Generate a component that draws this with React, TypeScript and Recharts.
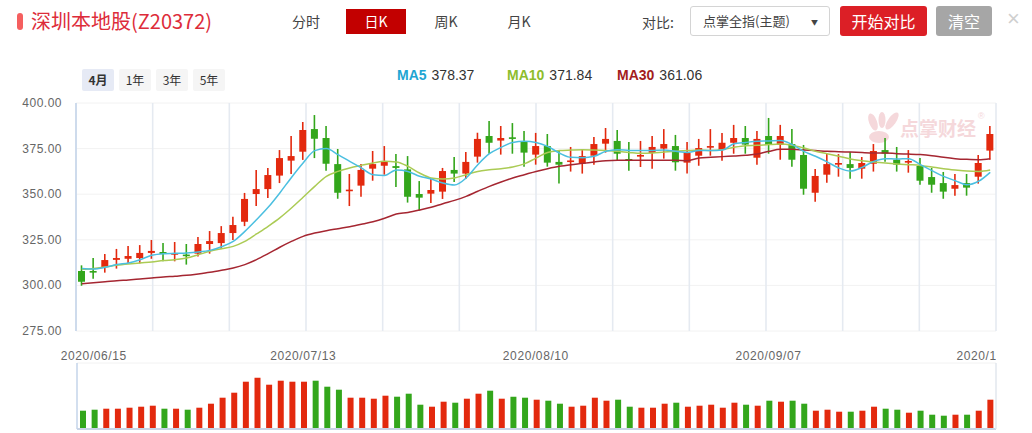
import React from 'react';
import { ComposedChart, Bar, Line, XAxis, YAxis, CartesianGrid, Cell, ReferenceLine } from 'recharts';

// trading days 2020/06/15 .. 2020/10/13
const dates = [
  '2020/06/15', '2020/06/16', '2020/06/17', '2020/06/18', '2020/06/19', '2020/06/22', '2020/06/23', '2020/06/24', '2020/06/29', '2020/06/30',
  '2020/07/01', '2020/07/02', '2020/07/03', '2020/07/06', '2020/07/07', '2020/07/08', '2020/07/09', '2020/07/10', '2020/07/13', '2020/07/14',
  '2020/07/15', '2020/07/16', '2020/07/17', '2020/07/20', '2020/07/21', '2020/07/22', '2020/07/23', '2020/07/24', '2020/07/27', '2020/07/28',
  '2020/07/29', '2020/07/30', '2020/07/31', '2020/08/03', '2020/08/04', '2020/08/05', '2020/08/06', '2020/08/07', '2020/08/10', '2020/08/11',
  '2020/08/12', '2020/08/13', '2020/08/14', '2020/08/17', '2020/08/18', '2020/08/19', '2020/08/20', '2020/08/21', '2020/08/24', '2020/08/25',
  '2020/08/26', '2020/08/27', '2020/08/28', '2020/08/31', '2020/09/01', '2020/09/02', '2020/09/03', '2020/09/04', '2020/09/07', '2020/09/08',
  '2020/09/09', '2020/09/10', '2020/09/11', '2020/09/14', '2020/09/15', '2020/09/16', '2020/09/17', '2020/09/18', '2020/09/21', '2020/09/22',
  '2020/09/23', '2020/09/24', '2020/09/25', '2020/09/28', '2020/09/29', '2020/09/30', '2020/10/09', '2020/10/12', '2020/10/13',
];

const dateTicks = ['2020/06/15', '2020/07/13', '2020/08/10', '2020/09/07', '2020/10/12'];
const priceTicks = [275, 300, 325, 350, 375, 400];
const gridColumns = 12;
const volumeTicks = [0, 22, 44, 66];

const opens = [
  307.9, 307.9, 310.1, 314.0, 314.6, 315.0, 317.8, 318.3, 317.3, 316.9,
  317.4, 322.7, 323.2, 328.7, 334.9, 350.1, 352.8, 360.2, 368.4, 373.3,
  385.7, 380.8, 366.5, 352.0, 354.7, 364.0, 365.6, 365.4, 363.6, 350.1,
  350.3, 351.4, 363.3, 361.3, 370.6, 381.9, 379.4, 381.2, 379.0, 371.7,
  376.4, 367.7, 368.2, 366.7, 371.1, 377.7, 379.2, 369.3, 370.6, 372.6,
  375.0, 376.4, 367.3, 371.1, 375.5, 374.2, 378.2, 380.8, 370.0, 381.9,
  377.0, 377.5, 371.5, 350.8, 360.7, 366.2, 366.5, 364.0, 366.7, 374.2,
  368.9, 367.3, 365.5, 359.4, 356.1, 353.0, 356.1, 359.6, 373.9,
];
const closes = [
  302.0, 307.0, 313.9, 315.0, 316.1, 317.8, 318.9, 317.2, 317.7, 316.5,
  322.7, 324.3, 328.7, 333.1, 347.4, 352.8, 360.5, 369.8, 370.9, 385.2,
  380.4, 366.7, 350.8, 352.5, 363.3, 366.5, 368.2, 364.4, 348.6, 348.1,
  352.3, 362.7, 361.3, 367.7, 380.3, 378.2, 380.8, 380.3, 372.8, 376.4,
  367.3, 366.2, 368.5, 370.9, 377.5, 380.3, 372.2, 368.6, 371.5, 375.9,
  377.5, 367.5, 372.6, 375.3, 376.4, 378.2, 380.8, 377.2, 380.3, 377.0,
  381.9, 368.9, 353.0, 360.0, 366.5, 367.1, 364.4, 367.1, 373.7, 372.2,
  366.2, 368.2, 357.4, 355.2, 351.4, 355.0, 353.6, 367.1, 383.0,
];
const highs = [
  311.0, 315.0, 317.2, 320.0, 321.6, 322.1, 324.9, 323.2, 323.8, 322.7,
  326.5, 329.8, 332.5, 337.7, 350.7, 363.3, 364.4, 374.2, 381.9, 389.6,
  393.4, 387.4, 374.8, 361.1, 366.5, 373.7, 376.4, 372.0, 370.9, 357.2,
  358.3, 364.4, 370.4, 373.1, 383.7, 390.1, 387.4, 389.0, 384.6, 383.6,
  383.0, 374.0, 375.9, 374.2, 381.4, 386.3, 385.2, 378.6, 379.2, 381.9,
  385.7, 382.5, 378.6, 380.3, 385.7, 383.6, 388.0, 387.4, 384.6, 391.8,
  388.0, 385.7, 377.0, 363.8, 372.0, 372.0, 373.1, 370.4, 377.5, 380.8,
  375.9, 374.2, 369.8, 364.4, 362.2, 361.1, 361.1, 371.5, 387.4,
];
const lows = [
  299.8, 303.7, 307.0, 309.2, 312.1, 312.1, 314.6, 313.2, 313.2, 311.4,
  315.8, 317.4, 319.9, 324.9, 332.5, 343.5, 347.9, 356.1, 361.1, 368.8,
  369.8, 362.9, 347.5, 343.5, 348.6, 357.4, 360.7, 353.9, 345.4, 341.0,
  345.2, 347.4, 356.7, 358.3, 367.3, 372.2, 371.7, 372.2, 365.1, 366.2,
  365.1, 355.8, 362.4, 361.3, 366.2, 372.8, 368.6, 362.9, 364.9, 364.0,
  369.5, 362.9, 361.3, 365.6, 371.1, 368.4, 372.2, 372.2, 366.2, 372.2,
  368.9, 365.1, 349.7, 345.9, 356.3, 359.6, 358.5, 358.5, 362.4, 367.8,
  362.4, 361.8, 355.2, 350.8, 347.5, 349.2, 349.2, 355.8, 368.9,
];
const ma5 = [
  309.3, 309.0, 309.9, 311.4, 312.3, 314.1, 316.5, 317.4, 317.6, 317.8,
  318.3, 319.2, 321.2, 324.1, 329.6, 336.0, 342.8, 350.7, 359.2, 367.1,
  373.9, 375.0, 371.7, 368.0, 364.4, 360.7, 360.3, 363.3, 362.5, 359.8,
  358.3, 356.1, 355.0, 358.9, 366.2, 372.2, 375.7, 378.4, 379.0, 378.4,
  376.2, 372.6, 370.2, 370.0, 370.8, 373.5, 374.4, 374.0, 373.9, 374.0,
  374.2, 373.5, 372.9, 373.9, 373.9, 374.2, 377.7, 378.4, 379.0, 379.2,
  379.4, 377.2, 373.5, 370.8, 367.7, 364.4, 362.7, 364.7, 368.0, 369.5,
  369.3, 369.5, 366.2, 362.9, 359.8, 357.4, 355.2, 357.1, 362.0,
];
const ma10 = [
  308.8, 309.3, 310.1, 311.0, 311.7, 312.3, 312.8, 313.6, 314.1, 315.0,
  316.8, 318.7, 320.1, 321.4, 324.1, 328.2, 332.4, 337.0, 342.4, 348.3,
  354.3, 359.8, 362.5, 364.4, 365.8, 367.1, 368.0, 367.7, 365.3, 361.6,
  358.9, 358.3, 358.9, 360.7, 362.5, 363.4, 364.0, 364.9, 366.6, 369.8,
  372.9, 373.9, 374.2, 374.4, 374.2, 373.9, 373.5, 372.9, 372.4, 372.6,
  373.1, 373.5, 373.9, 374.2, 374.0, 374.4, 375.7, 376.6, 376.8, 377.2,
  377.5, 376.8, 375.3, 373.5, 372.2, 370.8, 369.3, 368.4, 367.7, 367.1,
  366.6, 366.2, 365.8, 364.9, 364.0, 363.3, 362.7, 362.5, 363.3,
];
const ma30 = [
  300.9, 301.5, 302.0, 302.6, 303.0, 303.5, 304.0, 304.6, 305.0, 305.5,
  306.3, 307.2, 308.3, 309.5, 311.4, 314.1, 317.4, 320.9, 324.1, 326.9,
  328.7, 330.0, 331.1, 332.2, 333.5, 334.9, 336.8, 339.1, 340.0, 341.3,
  342.8, 344.8, 346.6, 348.8, 351.6, 354.3, 356.7, 358.9, 360.7, 362.5,
  364.0, 365.3, 366.2, 366.9, 367.7, 368.4, 368.6, 368.6, 368.6, 368.6,
  368.6, 368.6, 368.4, 369.8, 370.2, 370.6, 370.9, 371.3, 372.0, 373.5,
  374.6, 374.6, 374.2, 373.9, 373.5, 373.3, 373.1, 372.8, 372.6, 372.6,
  372.2, 372.0, 371.7, 371.1, 370.2, 369.5, 369.1, 368.9, 369.5,
];
const volumes = [
  18.3, 19.3, 20.3, 20.3, 21.3, 22.3, 23.3, 20.3, 20.3, 19.3,
  21.3, 25.3, 31.3, 36.3, 47.3, 51.3, 44.3, 48.3, 47.3, 47.3,
  48.3, 42.3, 39.3, 31.3, 31.3, 30.3, 33.3, 32.3, 35.3, 24.3,
  22.3, 27.3, 26.3, 30.3, 35.3, 38.3, 30.3, 32.3, 31.3, 29.3,
  28.3, 25.3, 22.3, 23.3, 31.3, 28.3, 29.3, 22.3, 21.3, 21.3,
  25.3, 26.3, 22.3, 23.3, 24.3, 21.3, 26.3, 24.3, 23.3, 28.3,
  27.3, 28.3, 25.3, 18.3, 19.3, 17.3, 17.3, 18.3, 22.3, 20.3,
  19.3, 16.3, 18.3, 14.3, 13.3, 14.3, 14.3, 18.3, 29.3,
];

const RED = '#e3290e';
const GREEN = '#33a61b';
const LATIN = '"Liberation Sans", Arial, "Noto Sans CJK SC", sans-serif';
const CJK = '"Noto Sans CJK SC", "Liberation Sans", sans-serif';

const rows = dates.map((date, i) => ({
  date,
  open: opens[i],
  close: closes[i],
  high: highs[i],
  low: lows[i],
  range: [lows[i], highs[i]],
  ma5: ma5[i],
  ma10: ma10[i],
  ma30: ma30[i],
  volume: volumes[i],
}));

// vertical grid: plot width split into equal columns
const columnLines = ({ offset }: any) =>
  Array.from({ length: gridColumns + 1 }, (_, k) => offset.left + (k * offset.width) / gridColumns);

const Candle = (props: any) => {
  const { x, y, width, height, payload } = props;
  const { open, close, high, low } = payload;
  const color = close >= open ? RED : GREEN;
  const top = Math.min(y, y + height);
  const h = Math.abs(height);
  const span = high - low || 1;
  const toY = (v: number) => top + ((high - v) / span) * h;
  const cx = x + width / 2;
  const bodyTop = toY(Math.max(open, close));
  const bodyBot = toY(Math.min(open, close));
  return (
    <g>
      <line x1={cx} x2={cx} y1={top} y2={top + h} stroke={color} strokeWidth={1.6} />
      <rect x={x} y={bodyTop} width={width} height={Math.max(bodyBot - bodyTop, 1.6)} fill={color} />
    </g>
  );
};

const PriceTick = ({ x, y, payload }: any) => (
  <text x={x} y={y + 4} textAnchor="end" fill="#666" fontSize={12} letterSpacing={0.5} fontFamily={LATIN}>
    {Number(payload.value).toFixed(2)}
  </text>
);

// labels are cut at the right border of the plot
const DateTick = ({ x, y, payload }: any) => (
  <svg x={0} y={y - 20} width={996} height={26} overflow="hidden">
    <text x={x + 11} y={20} textAnchor="middle" fill="#666" fontSize={12} letterSpacing={0.6} fontFamily={LATIN}>
      {payload.value}
    </text>
  </svg>
);

const tab = (label: string, left: number, active = false) => (
  <div
    style={{
      position: 'absolute', left, top: 9, width: active ? 60 : 40, height: 25, lineHeight: '25px',
      textAlign: 'center', fontSize: 14, fontFamily: CJK,
      background: active ? '#c20000' : 'transparent', color: active ? '#fff' : '#444',
    }}
  >
    {label}
  </div>
);

const period = (label: string, left: number, active = false) => (
  <div
    style={{
      position: 'absolute', left, top: 69, width: 32, height: 22, lineHeight: '22px', textAlign: 'center',
      fontSize: 12, fontFamily: CJK, borderRadius: 2, fontWeight: active ? 700 : 400,
      background: active ? '#e6eaf5' : '#f5f5f5', color: '#333',
    }}
  >
    {label}
  </div>
);

const legendItem = (name: string, value: string, color: string, left: number) => (
  <div style={{ position: 'absolute', left, top: 67, fontSize: 14, fontFamily: LATIN, whiteSpace: 'nowrap' }}>
    <span style={{ color, fontWeight: 700 }}>{name}</span>
    <span style={{ color: '#333', marginLeft: 5 }}>{value}</span>
  </div>
);

export default function App() {
  return (
    <div style={{ position: 'absolute', left: 0, top: 0, width: 1032, height: 433, background: '#fff', overflow: 'hidden' }}>
      {/* header */}
      <div style={{ position: 'absolute', left: 17, top: 13, width: 6, height: 17, borderRadius: 3, background: '#f55f5f' }} />
      <div style={{ position: 'absolute', left: 31, top: 7, fontSize: 20, fontFamily: CJK, color: '#dd2c3a', lineHeight: '28px' }}>
        深圳本地股(Z20372)
      </div>
      {tab('分时', 286)}
      {tab('日K', 346, true)}
      {tab('周K', 426)}
      {tab('月K', 499)}
      <div style={{ position: 'absolute', left: 642, top: 8, fontSize: 14, fontFamily: CJK, color: '#444', lineHeight: '28px' }}>对比:</div>
      <div
        style={{
          position: 'absolute', left: 690, top: 6, width: 140, height: 30, border: '1px solid #d4d4d4', borderRadius: 3,
          boxSizing: 'border-box', fontSize: 13, fontFamily: CJK, color: '#444', lineHeight: '28px', paddingLeft: 12,
        }}
      >
        点掌全指(主题)
        <span style={{ position: 'absolute', right: 11, top: 1, fontSize: 7, color: '#444' }}>▼</span>
      </div>
      <div
        style={{
          position: 'absolute', left: 840, top: 6, width: 87, height: 30, borderRadius: 3, background: '#dc1f26',
          color: '#fff', fontSize: 16, fontFamily: CJK, lineHeight: '30px', textAlign: 'center',
        }}
      >
        开始对比
      </div>
      <div
        style={{
          position: 'absolute', left: 936, top: 6, width: 56, height: 30, borderRadius: 3, background: '#a6a6a6',
          color: '#fff', fontSize: 16, fontFamily: CJK, lineHeight: '30px', textAlign: 'center',
        }}
      >
        清空
      </div>
      <div style={{ position: 'absolute', left: 1007, top: 4, fontSize: 22, fontFamily: LATIN, color: '#cfcfcf', lineHeight: '30px' }}>×</div>

      {period('4月', 82, true)}
      {period('1年', 119)}
      {period('3年', 156)}
      {period('5年', 193)}

      {legendItem('MA5', '378.37', '#1fa5d2', 397)}
      {legendItem('MA10', '371.84', '#8ebd2c', 507)}
      {legendItem('MA30', '361.06', '#a31d1d', 617)}

      {/* watermark */}
      <div style={{ position: 'absolute', left: 864, top: 111, display: 'flex', alignItems: 'flex-start' }}>
        <svg width={36} height={34}>
          <ellipse cx={9} cy={11} rx={4} ry={9} fill="#f5d8db" transform="rotate(-20 9 11)" />
          <ellipse cx={18} cy={9} rx={3.5} ry={8} fill="#f5d8db" />
          <ellipse cx={28} cy={10} rx={4} ry={10} fill="#f5d8db" transform="rotate(35 28 10)" />
          <ellipse cx={15} cy={26} rx={10} ry={6} fill="#f5d8db" />
        </svg>
        <span style={{ fontSize: 19, fontWeight: 700, fontFamily: CJK, color: '#f5d8db', lineHeight: '34px' }}>点掌财经</span>
        <span style={{ fontSize: 9, fontFamily: LATIN, color: '#f5d8db', marginLeft: 2 }}>®</span>
      </div>

      {/* price chart */}
      <div style={{ position: 'absolute', left: 0, top: 93 }}>
        <ComposedChart width={1032} height={250} data={rows} margin={{ top: 10, right: 36, bottom: 12, left: 0 }}>
          <XAxis dataKey="date" hide />
          <YAxis
            domain={[275, 400]}
            ticks={priceTicks}
            interval={0}
            width={76}
            tickLine={false}
            tickSize={0}
            tickMargin={14}
            tick={<PriceTick />}
            axisLine={{ stroke: '#c4d4ea', strokeWidth: 1.5 }}
          />
          <CartesianGrid horizontal vertical={false} stroke="#f2f2f2" />
          <CartesianGrid
            horizontal={false}
            vertical
            verticalCoordinatesGenerator={columnLines}
            stroke="#e5eaf1"
            strokeWidth={1.6}
          />
          <Bar dataKey="range" barSize={7} shape={<Candle />} isAnimationActive={false} />
          <Line type="monotone" dataKey="ma30" stroke="#a52631" strokeWidth={1.5} dot={false} activeDot={false} isAnimationActive={false} />
          <Line type="monotone" dataKey="ma10" stroke="#abcb54" strokeWidth={1.5} dot={false} activeDot={false} isAnimationActive={false} />
          <Line type="monotone" dataKey="ma5" stroke="#4bbfe0" strokeWidth={1.5} dot={false} activeDot={false} isAnimationActive={false} />
        </ComposedChart>
      </div>

      {/* volume chart */}
      <div style={{ position: 'absolute', left: 0, top: 340 }}>
        <ComposedChart width={1032} height={93} data={rows} margin={{ top: 3, right: 0, bottom: 4, left: 0 }}>
          <XAxis
            dataKey="date"
            orientation="top"
            height={20}
            ticks={dateTicks}
            interval={0}
            axisLine={false}
            tickLine={false}
            tickSize={0}
            tickMargin={3}
            tick={<DateTick />}
          />
          <YAxis
            domain={[0, 66]}
            ticks={volumeTicks}
            width={77}
            tick={false}
            tickLine={false}
            axisLine={{ stroke: '#c4d4ea', strokeWidth: 1.5 }}
          />
          <YAxis yAxisId="edge" orientation="right" width={36} tick={false} tickLine={false} axisLine={{ stroke: '#e2e7ee', strokeWidth: 1.5 }} />
          <CartesianGrid horizontal vertical={false} stroke="#f2f2f2" />
          <ReferenceLine y={0} stroke="#c9d4e6" strokeWidth={2} />
          <Bar dataKey="volume" barSize={6} isAnimationActive={false}>
            {rows.map((r, i) => (
              <Cell key={i} fill={r.close >= r.open ? RED : GREEN} />
            ))}
          </Bar>
        </ComposedChart>
      </div>
    </div>
  );
}
